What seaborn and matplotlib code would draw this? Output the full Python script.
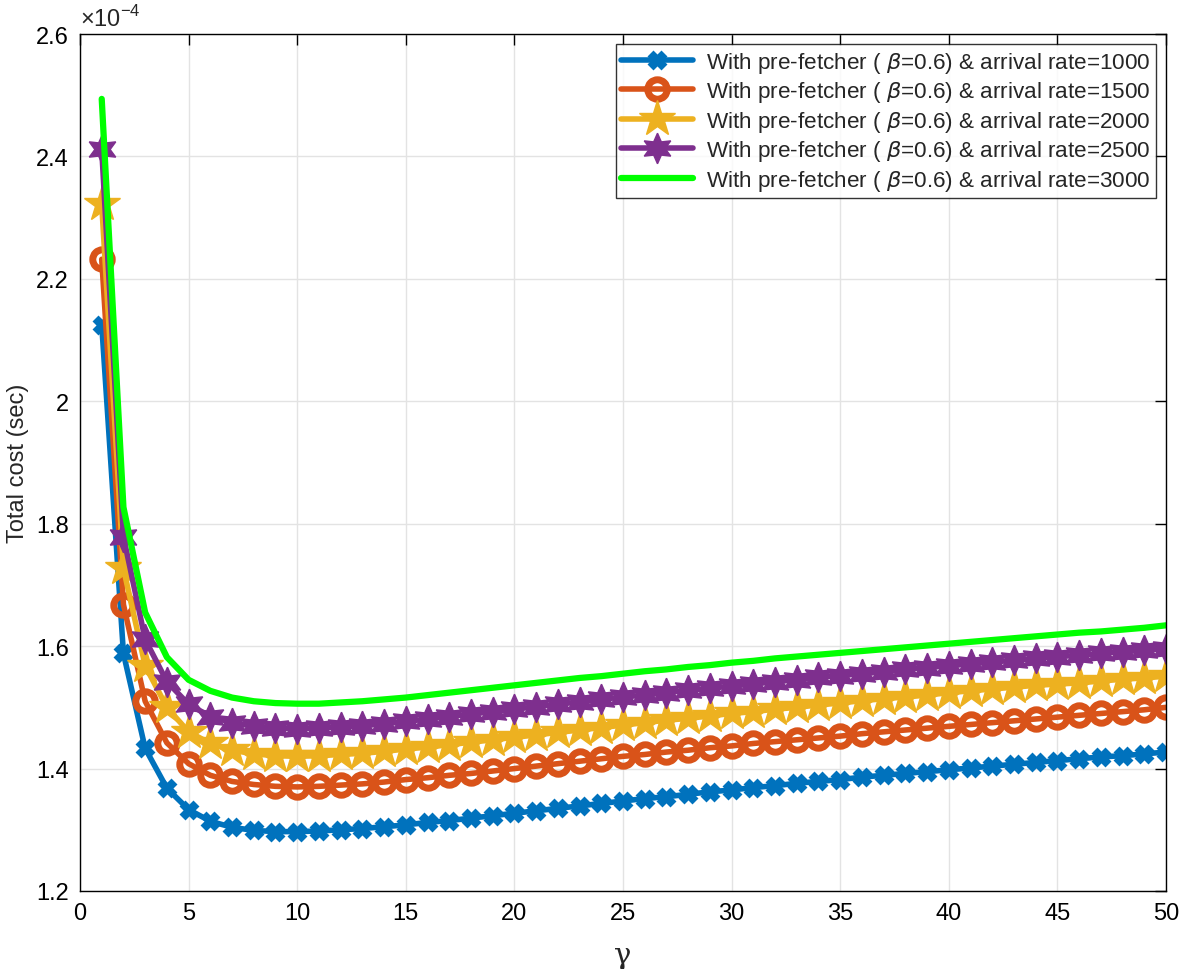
import numpy as np
import pandas as pd
import seaborn as sns
import matplotlib.pyplot as plt

# data (values in units of 1e-4 sec)
gamma = list(range(1, 51))

cost_1000 = [2.125, 1.588, 1.433, 1.368, 1.333, 1.314, 1.304, 1.299, 1.297, 1.297,
             1.298, 1.300, 1.302, 1.305, 1.308, 1.312, 1.315, 1.319, 1.323, 1.327,
             1.331, 1.335, 1.339, 1.343, 1.347, 1.351, 1.354, 1.358, 1.362, 1.365,
             1.369, 1.372, 1.376, 1.379, 1.382, 1.386, 1.389, 1.392, 1.395, 1.398,
             1.401, 1.404, 1.407, 1.410, 1.413, 1.416, 1.419, 1.421, 1.424, 1.427]
cost_1500 = [2.232, 1.668, 1.510, 1.442, 1.408, 1.389, 1.379, 1.374, 1.371, 1.370,
             1.371, 1.373, 1.375, 1.378, 1.382, 1.385, 1.389, 1.392, 1.396, 1.400,
             1.404, 1.408, 1.412, 1.416, 1.420, 1.423, 1.427, 1.430, 1.434, 1.437,
             1.441, 1.444, 1.447, 1.450, 1.453, 1.457, 1.460, 1.463, 1.466, 1.469,
             1.472, 1.475, 1.478, 1.481, 1.484, 1.487, 1.490, 1.493, 1.496, 1.500]
cost_2000 = [2.322, 1.727, 1.568, 1.500, 1.460, 1.441, 1.430, 1.424, 1.421, 1.420,
             1.421, 1.423, 1.425, 1.428, 1.432, 1.435, 1.439, 1.443, 1.447, 1.451,
             1.455, 1.459, 1.463, 1.467, 1.471, 1.475, 1.479, 1.482, 1.486, 1.490,
             1.493, 1.497, 1.500, 1.504, 1.507, 1.511, 1.514, 1.517, 1.520, 1.524,
             1.527, 1.530, 1.533, 1.536, 1.538, 1.540, 1.543, 1.546, 1.548, 1.551]
cost_2500 = [2.412, 1.779, 1.611, 1.542, 1.505, 1.485, 1.475, 1.469, 1.466, 1.465,
             1.466, 1.468, 1.470, 1.473, 1.477, 1.481, 1.485, 1.489, 1.493, 1.497,
             1.501, 1.505, 1.509, 1.513, 1.517, 1.520, 1.524, 1.528, 1.531, 1.535,
             1.538, 1.542, 1.545, 1.549, 1.552, 1.555, 1.558, 1.562, 1.565, 1.568,
             1.571, 1.574, 1.577, 1.580, 1.583, 1.585, 1.588, 1.591, 1.593, 1.596]
cost_3000 = [2.494, 1.827, 1.655, 1.582, 1.545, 1.527, 1.516, 1.510, 1.507, 1.506,
             1.506, 1.508, 1.510, 1.513, 1.516, 1.520, 1.524, 1.528, 1.532, 1.536,
             1.540, 1.544, 1.548, 1.551, 1.555, 1.559, 1.562, 1.566, 1.569, 1.573,
             1.576, 1.580, 1.583, 1.586, 1.589, 1.592, 1.595, 1.598, 1.601, 1.604,
             1.607, 1.610, 1.613, 1.616, 1.619, 1.622, 1.624, 1.627, 1.630, 1.634]

rates = [1000, 1500, 2000, 2500, 3000]
series = [cost_1000, cost_1500, cost_2000, cost_2500, cost_3000]

xticks = [0, 5, 10, 15, 20, 25, 30, 35, 40, 45, 50]
yticks = [1.2, 1.4, 1.6, 1.8, 2.0, 2.2, 2.4, 2.6]
ytick_labels = ['1.2', '1.4', '1.6', '1.8', '2', '2.2', '2.4', '2.6']

## style
sns.set_style("white")
plt.rcParams['font.family'] = ['Liberation Sans', 'DejaVu Sans']
plt.rcParams['mathtext.fontset'] = 'custom'
plt.rcParams['mathtext.rm'] = 'Liberation Sans'
plt.rcParams['mathtext.it'] = 'DejaVu Sans:italic'

colors = ['#0072BD', '#D95319', '#EDB120', '#7E2F8E', '#00FF00']
styles = [
    dict(marker='X', markersize=11, mew=2, lw=4),
    dict(marker='o', markersize=14, mfc='none', mew=5, lw=4),
    dict(marker='*', markersize=27, mew=1, lw=4),
    dict(marker=(6, 1, 0), markersize=22, mew=1, lw=4),
    dict(marker=None, lw=4.5),
]

fig = plt.figure(figsize=(11.82, 9.7), dpi=100)
ax = fig.add_axes([80 / 1182, 78 / 970, 1086 / 1182, 857 / 970])

for rate, vals, c, st in zip(rates, series, colors, styles):
    df = pd.DataFrame({'gamma': gamma, 'cost': vals})
    sns.lineplot(data=df, x='gamma', y='cost', ax=ax, color=c, mec=c,
                 label=r'With pre-fetcher ( $\mathit{\beta}$=0.6) & arrival rate=%d' % rate,
                 **st)

ax.set_xlim(0, 50)
ax.set_ylim(1.2, 2.6)
ax.set_xticks(xticks)
ax.set_yticks(yticks)
ax.set_yticklabels(ytick_labels)
ax.grid(True, color='#e3e3e3', lw=1)
ax.tick_params(direction='in', length=8, width=1, top=True, right=True,
               labelsize=17, colors='black', pad=8)
for s in ax.spines.values():
    s.set_color('black')
    s.set_linewidth(1)

ax.set_xlabel('γ', fontsize=21, family=['DejaVu Serif'], labelpad=12)
ax.set_ylabel('Total cost (sec)', fontsize=17, labelpad=5)
ax.text(0.0, 1.004, r'$\times10^{-4}$', transform=ax.transAxes, fontsize=17,
        ha='left', va='bottom')

leg = ax.legend(loc='upper right', fontsize=16.2, frameon=True, fancybox=False,
                edgecolor='black', handlelength=3.2, borderaxespad=0.45,
                labelspacing=0.2, borderpad=0.25, handletextpad=0.55)
leg.get_frame().set_linewidth(1)

fig.savefig('out.png', dpi=100)
